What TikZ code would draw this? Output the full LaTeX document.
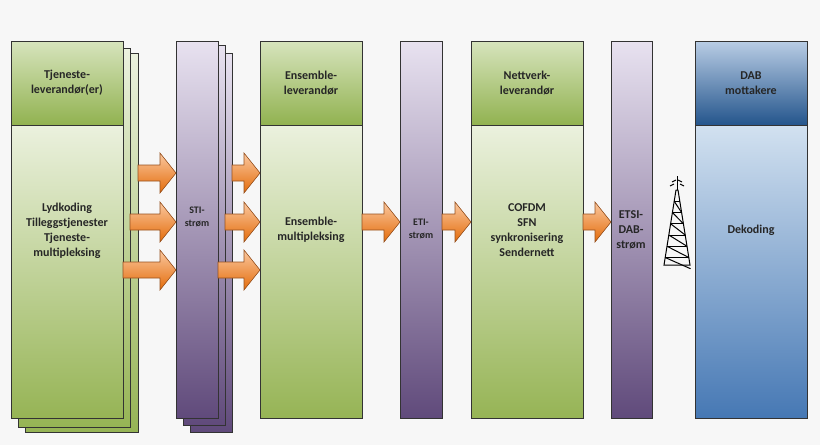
\documentclass[tikz,border=0pt]{standalone}
\usepackage{fontspec}
\setmainfont{Carlito}
\begin{document}
\begin{tikzpicture}[x=1pt,y=-1pt,
  bx/.style={draw=black!80,line width=0.8pt},
  grh/.style={bx,top color={rgb,255:red,215;green,228;blue,189},bottom color={rgb,255:red,145;green,178;blue,80}},
  grb/.style={bx,top color={rgb,255:red,235;green,241;blue,222},bottom color={rgb,255:red,150;green,180;blue,85}},
  pu/.style={bx,top color={rgb,255:red,232;green,226;blue,240},bottom color={rgb,255:red,96;green,74;blue,123}},
  blh/.style={bx,top color={rgb,255:red,185;green,205;blue,229},bottom color={rgb,255:red,36;green,85;blue,140}},
  blb/.style={bx,top color={rgb,255:red,210;green,225;blue,240},bottom color={rgb,255:red,70;green,120;blue,180}},
  ar/.style={draw={rgb,255:red,150;green,80;blue,30},line width=0.6pt,top color={rgb,255:red,250;green,200;blue,160},bottom color={rgb,255:red,228;green,108;blue,10},shading angle=0},
  tx/.style={font=\bfseries\fontsize{12}{15}\selectfont,align=center,text=black!85},
  ts/.style={font=\bfseries\fontsize{10}{13}\selectfont,align=center,text=black!85}]
\newcommand\barrow[3]{\path[ar] (#1,#3-8) -- (#2-16,#3-8) -- (#2-16,#3-20) -- (#2,#3) -- (#2-16,#3+20) -- (#2-16,#3+8) -- (#1,#3+8) -- cycle;}
\fill[black!3] (0,0) rectangle (820,445);
% left stack
\path[grb] (25,53) rectangle (138,432);
\path[grb] (18,48) rectangle (130,427);
\path[grb] (11,125) rectangle (123,418);
\path[grh] (11,41) rectangle (123,125);
\node[tx] (tl) at (67,83) {Tjeneste-\\leverandør(er)};
\node[tx] (tb) at (67,231) {Lydkoding\\Tilleggstjenester\\Tjeneste-\\multipleksing};
% STI stack
\path[pu] (190,53) rectangle (232,432);
\path[pu] (183,45) rectangle (225,425);
\path[pu] (176,41) rectangle (218,418);
\node[ts] (sti) at (197,217) {STI-\\strøm};
% ensemble
\path[grb] (260,125) rectangle (362,418);
\path[grh] (260,41) rectangle (362,125);
\node[tx] (el) at (311,83) {Ensemble-\\leverandør};
\node[tx] (eb) at (311,230) {Ensemble-\\multipleksing};
% ETI
\path[pu] (400,41) rectangle (442,418);
\node[ts] (eti) at (421,229) {ETI-\\strøm};
% nettverk
\path[grb] (471,125) rectangle (583,418);
\path[grh] (471,41) rectangle (583,125);
\node[tx] (nl) at (527,83) {Nettverk-\\leverandør};
\node[tx] (nb) at (527,230) {COFDM\\SFN\\synkronisering\\Sendernett};
% ETSI
\path[pu] (611,41) rectangle (652,418);
\node[tx] (etsi) at (631,230) {ETSI-\\DAB-\\strøm};
% DAB
\path[blb] (695,125) rectangle (807,418);
\path[blh] (695,41) rectangle (807,125);
\node[tx] (dl) at (751,83) {DAB\\mottakere};
\node[tx] (db) at (751,230) {Dekoding};
% arrows
\barrow{138}{176}{173}
\barrow{130}{176}{222}
\barrow{123}{176}{270}
\barrow{232}{260}{173}
\barrow{225}{260}{222}
\barrow{218}{260}{270}
\barrow{362}{400}{222}
\barrow{442}{471}{222}
\barrow{583}{611}{222}
% antenna
\begin{scope}[line width=1pt,black]
\draw (676,190) -- (664,265) -- (690,265) -- (678,190) -- cycle;
\foreach \t in {0.15,0.3,0.45,0.6,0.75,0.9}{
 \draw ({676-12*\t},{190+75*\t}) -- ({678+12*\t},{190+75*\t});
 \draw ({676-12*\t},{190+75*\t}) -- ({678+12*(\t+0.15)},{190+75*(\t+0.15)});
}
\draw (677,190) -- (677,176);
\draw (670,186) -- (674,184) (680,184) -- (684,186);
\draw (672,182) -- (676,180) (678,180) -- (682,182);
\end{scope}
\end{tikzpicture}
\end{document}
